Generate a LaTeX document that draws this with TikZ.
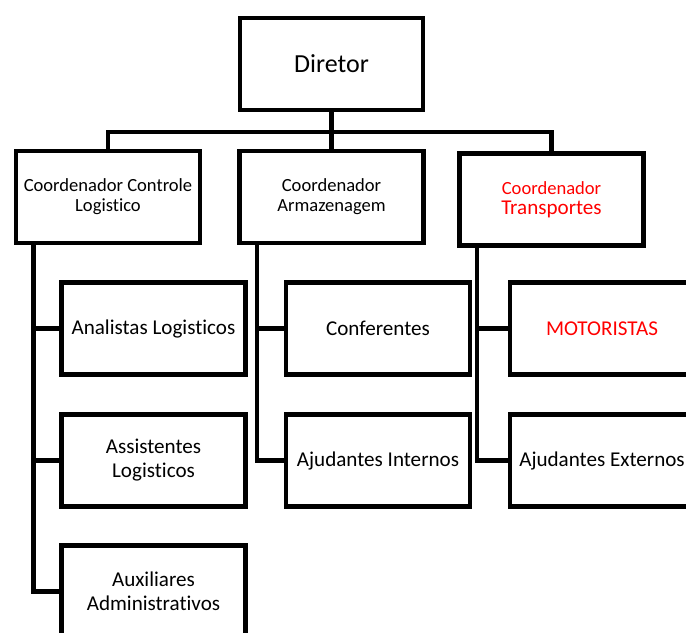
\documentclass[tikz,border=0pt]{standalone}
\usepackage{fontspec}
\setmainfont{Carlito}[Ligatures=NoCommon]
\usetikzlibrary{positioning}

\begin{document}
\begin{tikzpicture}[
    x=0.025cm, y=-0.025cm,
    box/.style={draw, rectangle, minimum width=4.6cm, minimum height=2.3cm, inner sep=2pt, align=center},
    head/.style={box, font=\fontsize{18.5}{22}\selectfont},
    coord/.style={box, font=\fontsize{13.2}{14.2}\selectfont},
    staff/.style={box, font=\fontsize{15}{17.1}\selectfont},
    line width=3.5pt
]

  \useasboundingbox (0,0) rectangle (686,633);
  \clip (0,0) rectangle (686,633);

  % --- TOP ---
  \node[head, minimum width=4.575cm] (dir) at (331.5,64) {Diretor};

  % --- COORDINATORS ---
  \node[coord] (cl) at (108,197) {Coordenador Controle\\Logistico};
  \node[coord] (ca) at (331.5,197) {Coordenador\\Armazenagem};
  \node[coord, text=red] (ct) at (551.5,199.5) {Coordenador\\{\fontsize{15}{17}\selectfont Transportes}};

  % --- STAFF ---
  \node[staff] (al) at (153.5,328.5) {Analistas Logisticos};
  \node[staff] (as) at (153.5,460.5) {Assistentes\\Logisticos};
  \node[staff] (ax) at (153.5,591.5) {Auxiliares\\Administrativos};
  \node[staff] (cf) at (378,328.5) {Conferentes};
  \node[staff] (ai) at (378,460.5) {Ajudantes Internos};
  \node[staff, text=red] (mt) at (602,328.5) {MOTORISTAS};
  \node[staff] (ae) at (602,460.5) {Ajudantes Externos};

  % --- DRAWING EDGES ---

  % Director to coordinators
  \draw (dir.south) -- ++(0,19.5) coordinate (bus);
  \draw (cl.north) |- (bus) -| (ct.north);
  \draw (bus) -- (ca.north);

  % Coordinators to staff
  \foreach \up/\down in {cl/al, cl/as, cl/ax, ca/cf, ca/ai, ct/mt, ct/ae}
    \draw ([xshift=0.5cm]\up.south west) |- (\down.west);

\end{tikzpicture}
\end{document}
